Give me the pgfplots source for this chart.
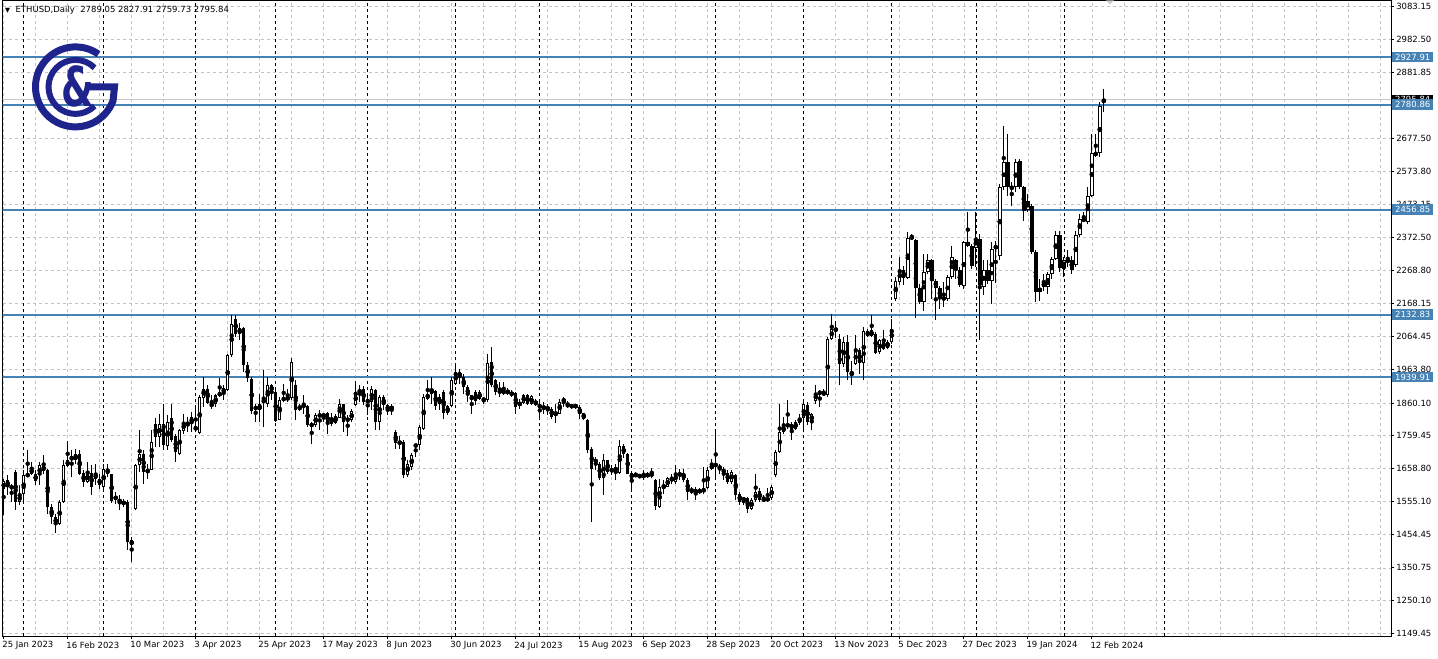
\documentclass[border=0pt]{standalone}
\usepackage{pgfplots}
\pgfplotsset{compat=1.18}
\usepackage{pgfplotstable}
\usepackage{fontspec}
\setmainfont{DejaVu Sans}
\definecolor{lvl}{RGB}{70,130,180}
\definecolor{logoblue}{RGB}{30,36,140}
\definecolor{grd}{RGB}{195,195,195}
\pgfplotstableread{
k o h l c
0 1593 1626 1513 1618
1 1623 1636 1575 1600
2 1602 1611 1554 1597
3 1647 1652 1528 1554
4 1554 1606 1544 1578
5 1578 1652 1549 1636
6 1640 1714 1631 1634
7 1642 1678 1636 1657
8 1619 1652 1606 1640
9 1636 1678 1606 1667
10 1667 1698 1642 1650
11 1654 1657 1518 1539
12 1539 1549 1487 1508
13 1508 1518 1459 1485
14 1485 1559 1482 1554
15 1554 1683 1550 1667
16 1665 1744 1662 1683
17 1683 1714 1631 1695
18 1683 1719 1672 1701
19 1701 1714 1636 1642
20 1644 1652 1600 1616
21 1616 1678 1612 1644
22 1644 1667 1575 1600
23 1642 1672 1606 1626
24 1626 1642 1595 1606
25 1600 1672 1590 1657
26 1657 1672 1631 1640
27 1640 1642 1552 1557
28 1572 1585 1549 1562
29 1564 1575 1531 1551
30 1554 1564 1539 1549
31 1554 1559 1405 1431
32 1436 1446 1369 1421
33 1534 1672 1528 1667
34 1667 1775 1647 1703
35 1703 1714 1611 1647
36 1647 1672 1626 1654
37 1654 1775 1652 1739
38 1796 1814 1724 1755
39 1755 1827 1724 1796
40 1796 1858 1714 1729
41 1726 1822 1714 1801
42 1815 1858 1740 1745
43 1757 1765 1678 1709
44 1703 1781 1698 1775
45 1773 1827 1765 1801
46 1801 1817 1770 1791
47 1796 1832 1770 1817
48 1788 1848 1770 1775
49 1767 1883 1765 1878
50 1876 1940 1848 1904
51 1904 1914 1858 1860
52 1858 1883 1842 1850
53 1856 1889 1847 1883
54 1883 1938 1878 1891
55 1889 1914 1868 1907
56 1899 2012 1897 2007
57 2007 2133 2002 2105
58 2120 2133 2063 2074
59 2074 2107 2053 2092
60 2092 2094 1955 1976
61 1976 1986 1925 1938
62 1935 1940 1827 1835
63 1850 1858 1801 1839
64 1837 1889 1801 1858
65 1863 1961 1786 1868
66 1858 1940 1848 1916
67 1916 1919 1868 1894
68 1894 1899 1801 1804
69 1808 1878 1806 1868
70 1868 1919 1863 1876
71 1870 1904 1863 1878
72 1876 2000 1870 1986
73 1914 1930 1806 1839
74 1839 1858 1835 1850
75 1855 1883 1827 1848
76 1850 1853 1786 1791
77 1796 1801 1734 1788
78 1791 1830 1786 1822
79 1820 1837 1775 1823
80 1823 1830 1800 1820
81 1829 1832 1765 1794
82 1796 1830 1790 1814
83 1798 1827 1795 1819
84 1815 1873 1812 1856
85 1856 1858 1770 1801
86 1806 1822 1757 1811
87 1806 1840 1800 1835
88 1853 1927 1850 1894
89 1891 1914 1863 1901
90 1904 1911 1853 1863
91 1868 1883 1822 1863
92 1863 1911 1837 1904
93 1901 1904 1775 1801
94 1801 1883 1775 1878
95 1878 1883 1837 1853
96 1853 1856 1822 1837
97 1852 1856 1822 1838
98 1770 1775 1719 1736
99 1736 1757 1719 1738
100 1740 1745 1627 1637
101 1637 1683 1632 1673
102 1663 1704 1652 1698
103 1727 1734 1693 1730
104 1729 1791 1714 1786
105 1781 1889 1776 1878
106 1873 1932 1868 1889
107 1887 1940 1858 1904
108 1896 1899 1837 1850
109 1878 1889 1837 1856
110 1894 1899 1811 1829
111 1829 1853 1822 1850
112 1850 1940 1847 1930
113 1919 1983 1914 1955
114 1955 1966 1919 1940
115 1940 1950 1889 1909
116 1909 1914 1863 1883
117 1868 1886 1827 1883
118 1894 1899 1853 1866
119 1894 1899 1868 1873
120 1868 1878 1858 1873
121 1868 2012 1863 1984
122 1986 2032 1909 1914
123 1930 1935 1883 1895
124 1899 1925 1878 1891
125 1898 1925 1883 1890
126 1890 1905 1885 1898
127 1883 1899 1878 1894
128 1891 1894 1827 1847
129 1850 1873 1842 1863
130 1860 1887 1858 1883
131 1883 1887 1853 1856
132 1856 1883 1853 1880
133 1866 1873 1850 1853
134 1853 1866 1808 1847
135 1850 1863 1827 1842
136 1842 1858 1822 1845
137 1842 1847 1811 1817
138 1822 1858 1798 1830
139 1827 1873 1825 1863
140 1863 1878 1847 1873
141 1850 1866 1845 1856
142 1853 1858 1842 1847
143 1848 1858 1842 1853
144 1847 1853 1811 1827
145 1829 1830 1806 1811
146 1808 1811 1704 1714
147 1719 1724 1493 1657
148 1688 1693 1652 1673
149 1673 1678 1621 1629
150 1629 1701 1575 1683
151 1683 1685 1642 1647
152 1657 1667 1637 1647
153 1652 1673 1621 1660
154 1644 1747 1642 1726
155 1726 1734 1691 1701
156 1701 1706 1640 1642
157 1644 1650 1590 1626
158 1632 1647 1630 1642
159 1637 1640 1627 1632
160 1632 1654 1623 1637
161 1632 1646 1629 1642
162 1644 1660 1629 1634
163 1621 1626 1529 1541
164 1539 1626 1537 1599
165 1599 1621 1580 1606
166 1601 1632 1599 1627
167 1621 1642 1611 1627
168 1616 1668 1611 1642
169 1637 1657 1621 1642
170 1644 1657 1616 1621
171 1621 1627 1560 1585
172 1585 1601 1580 1592
173 1590 1601 1560 1585
174 1585 1596 1580 1590
175 1585 1662 1580 1596
176 1596 1662 1593 1654
177 1657 1688 1652 1668
178 1673 1781 1621 1664
179 1664 1673 1642 1657
180 1657 1662 1621 1642
181 1644 1652 1611 1616
182 1616 1652 1611 1647
183 1637 1642 1560 1575
184 1580 1585 1544 1555
185 1565 1570 1544 1560
186 1565 1570 1519 1534
187 1534 1565 1529 1560
188 1560 1642 1555 1585
189 1587 1596 1555 1560
190 1565 1575 1555 1558
191 1560 1596 1555 1565
192 1565 1606 1560 1601
193 1637 1714 1632 1709
194 1709 1858 1704 1770
195 1770 1817 1765 1788
196 1786 1868 1781 1796
197 1796 1801 1745 1778
198 1781 1806 1776 1801
199 1798 1827 1791 1815
200 1812 1873 1776 1856
201 1853 1863 1791 1801
202 1801 1830 1776 1827
203 1866 1914 1858 1891
204 1889 1899 1848 1894
205 1894 1904 1880 1884
206 1884 2063 1878 2058
207 2058 2135 2055 2089
208 2089 2112 2060 2084
209 2058 2074 1914 1981
210 1981 2063 1971 2048
211 2048 2069 1930 1955
212 1955 1991 1914 1945
213 1981 2069 1976 2022
214 2022 2030 1950 1983
215 1983 2094 1930 2081
216 2081 2089 2063 2066
217 2066 2133 2063 2084
218 2074 2079 2012 2014
219 2017 2058 2012 2053
220 2051 2084 2022 2027
221 2030 2053 2027 2048
222 2048 2120 2043 2089
223 2182 2248 2176 2236
224 2233 2310 2223 2272
225 2269 2284 2223 2246
226 2246 2387 2243 2370
227 2374 2382 2364 2367
228 2364 2367 2123 2216
229 2216 2228 2166 2171
230 2171 2320 2144 2264
231 2264 2320 2259 2300
232 2300 2305 2182 2238
233 2238 2243 2117 2216
234 2216 2220 2151 2182
235 2178 2233 2156 2187
236 2180 2254 2176 2250
237 2250 2346 2243 2312
238 2300 2305 2243 2269
239 2271 2279 2218 2223
240 2220 2361 2212 2356
241 2356 2449 2341 2346
242 2346 2351 2274 2284
243 2339 2449 2279 2367
244 2367 2382 2053 2223
245 2218 2300 2192 2271
246 2271 2300 2228 2238
247 2238 2356 2166 2336
248 2336 2361 2230 2346
249 2315 2536 2300 2526
250 2526 2716 2516 2603
251 2603 2690 2500 2526
252 2528 2541 2469 2521
253 2526 2613 2511 2603
254 2608 2613 2521 2526
255 2526 2531 2423 2454
256 2456 2505 2449 2485
257 2469 2475 2320 2325
258 2325 2331 2171 2202
259 2202 2243 2176 2216
260 2233 2259 2207 2218
261 2218 2264 2197 2259
262 2259 2310 2243 2305
263 2305 2392 2300 2380
264 2380 2392 2264 2277
265 2277 2310 2248 2302
266 2302 2331 2279 2295
267 2300 2315 2259 2271
268 2287 2392 2279 2380
269 2380 2444 2372 2428
270 2428 2449 2418 2423
271 2418 2526 2413 2500
272 2500 2690 2495 2631
273 2627 2690 2618 2631
274 2631 2788 2618 2778
275 2789.05 2827.91 2759.73 2795.84
}\ohlc
\begin{document}
\begin{tikzpicture}[x=1pt,y=1pt]
\begin{axis}[
  scale only axis, width=1388.5pt, height=636pt,
  xmin=-0.3, xmax=346.8, ymin=1139.2, ymax=3102.9,
  axis line style={black, line width=0.8pt},
  xtick={0,16,...,272},
  xticklabels={25 Jan 2023,16 Feb 2023,10 Mar 2023,3 Apr 2023,25 Apr 2023,17 May 2023,8 Jun 2023,30 Jun 2023,24 Jul 2023,15 Aug 2023,6 Sep 2023,28 Sep 2023,20 Oct 2023,13 Nov 2023,5 Dec 2023,27 Dec 2023,19 Jan 2024,12 Feb 2024},
  xtick pos=bottom, ytick pos=right, yticklabel pos=right,
  tick align=outside, major tick length=3pt,
  tick style={black, line width=0.8pt},
  minor xtick={0,8,...,344}, minor tick length=0pt,
  xminorgrids=true, ymajorgrids=true, xmajorgrids=false,
  minor grid style={grd, line width=0.6pt, dash pattern=on 3pt off 3pt},
  major grid style={grd, line width=0.6pt, dash pattern=on 3pt off 3pt},
  ytick={3083.15,2982.50,2881.85,2778.15,2677.50,2573.80,2473.15,2372.50,2268.80,2168.15,2064.45,1963.80,1860.10,1759.45,1658.80,1555.10,1454.45,1350.75,1250.10,1149.45},
  yticklabels={3083.15,2982.50,2881.85,2778.15,2677.50,2573.80,2473.15,2372.50,2268.80,2168.15,2064.45,1963.80,1860.10,1759.45,1658.80,1555.10,1454.45,1350.75,1250.10,1149.45},
  xticklabel style={font=\fontsize{8.5}{10}\selectfont, anchor=north west, inner sep=0pt, xshift=-1.5pt, yshift=-2pt},
  yticklabel style={font=\fontsize{8.5}{10}\selectfont, anchor=west, inner sep=0pt, xshift=2pt},
  extra x ticks={5,25,48,68,91,113,134,157,178,200,222,243,265,290},
  extra x tick labels={},
  extra x tick style={xmajorgrids=true, major tick length=0pt, major grid style={black, line width=0.6pt, dash pattern=on 3pt off 3pt}},
]
% level lines
\addplot[lvl, line width=2pt, forget plot] coordinates {(-1,2927.91) (347,2927.91)};
\addplot[gray!45, line width=0.8pt, forget plot] coordinates {(-1,2795.84) (347,2795.84)};
\addplot[lvl, line width=2pt, forget plot] coordinates {(-1,2780.86) (347,2780.86)};
\addplot[lvl, line width=2pt, forget plot] coordinates {(-1,2456.85) (347,2456.85)};
\addplot[lvl, line width=2pt, forget plot] coordinates {(-1,2132.83) (347,2132.83)};
\addplot[lvl, line width=2pt, forget plot] coordinates {(-1,1939.91) (347,1939.91)};
% wicks
\addplot[only marks, mark=none, forget plot,
  error bars/.cd, y dir=both, y explicit, error mark=none,
  error bar style={black, line width=1pt}]
  table[x=k, y expr={(\thisrow{h}+\thisrow{l})/2}, y error expr={(\thisrow{h}-\thisrow{l})/2}] {\ohlc};
% bodies
\addplot[only marks, mark=none, forget plot,
  error bars/.cd, y dir=both, y explicit, error mark=none,
  error bar style={black, line width=3.4pt}]
  table[x=k, y expr={(\thisrow{o}+\thisrow{c})/2}, y error expr={max(abs(\thisrow{o}-\thisrow{c})/2,1.6)}] {\ohlc};
% white interiors for rising candles
\addplot[only marks, mark=none, forget plot,
  error bars/.cd, y dir=both, y explicit, error mark=none,
  error bar style={white, line width=1.4pt}]
  table[x=k, y expr={(\thisrow{o}+\thisrow{c})/2}, y error expr={(\thisrow{c}>\thisrow{o}) ? max((\thisrow{c}-\thisrow{o})/2-3.1,0) : 0}] {\ohlc};
\coordinate (AXSW) at (rel axis cs:0,0);
\coordinate (RA) at (axis cs:346.8,2927.91);
\coordinate (RP) at (axis cs:346.8,2795.84);
\coordinate (RB) at (axis cs:346.8,2780.86);
\coordinate (RC) at (axis cs:346.8,2456.85);
\coordinate (RD) at (axis cs:346.8,2132.83);
\coordinate (RE) at (axis cs:346.8,1939.91);
\end{axis}
% price labels
\tikzset{plab/.style={anchor=west, inner sep=0pt, minimum height=10.5pt, minimum width=41pt, xshift=1pt, text=white, font=\fontsize{8.5}{10}\selectfont}}
\node[plab, fill=black] at (RP) {2795.84};
\node[plab, fill=lvl] at (RA) {2927.91};
\node[plab, fill=lvl] at (RB) {2780.86};
\node[plab, fill=lvl] at (RC) {2456.85};
\node[plab, fill=lvl] at (RD) {2132.83};
\node[plab, fill=lvl] at (RE) {1939.91};
\begin{scope}[shift={(AXSW)}, xshift=-2.5pt, yshift=-22pt]
\path (0,0) rectangle (1438,658);
% header
\node[anchor=west, inner sep=0pt, font=\fontsize{8.5}{10}\selectfont] at (5,648) {{\fontsize{6.5}{6.5}\selectfont ▼}\ \ ETHUSD,Daily\ \ 2789.05 2827.91 2759.73 2795.84};
% logo
\begin{scope}[draw=logoblue, line width=7pt]
\draw (75.5,571.5) ++(55:40) arc (55:340:40) -- (114.5,571.5) -- (88,571.5);
\draw[line width=6pt] (75.5,571.5) ++(45:27) arc (45:315:27);
\end{scope}
\node[text=logoblue, inner sep=0pt, xscale=0.68] at (77.5,571.5) {\fontsize{55}{55}\selectfont\bfseries\&};
% chart shift marker
\fill[gray!40] (1106,658) -- (1114,658) -- (1110,654) -- cycle;
\end{scope}
\end{tikzpicture}
\end{document}
